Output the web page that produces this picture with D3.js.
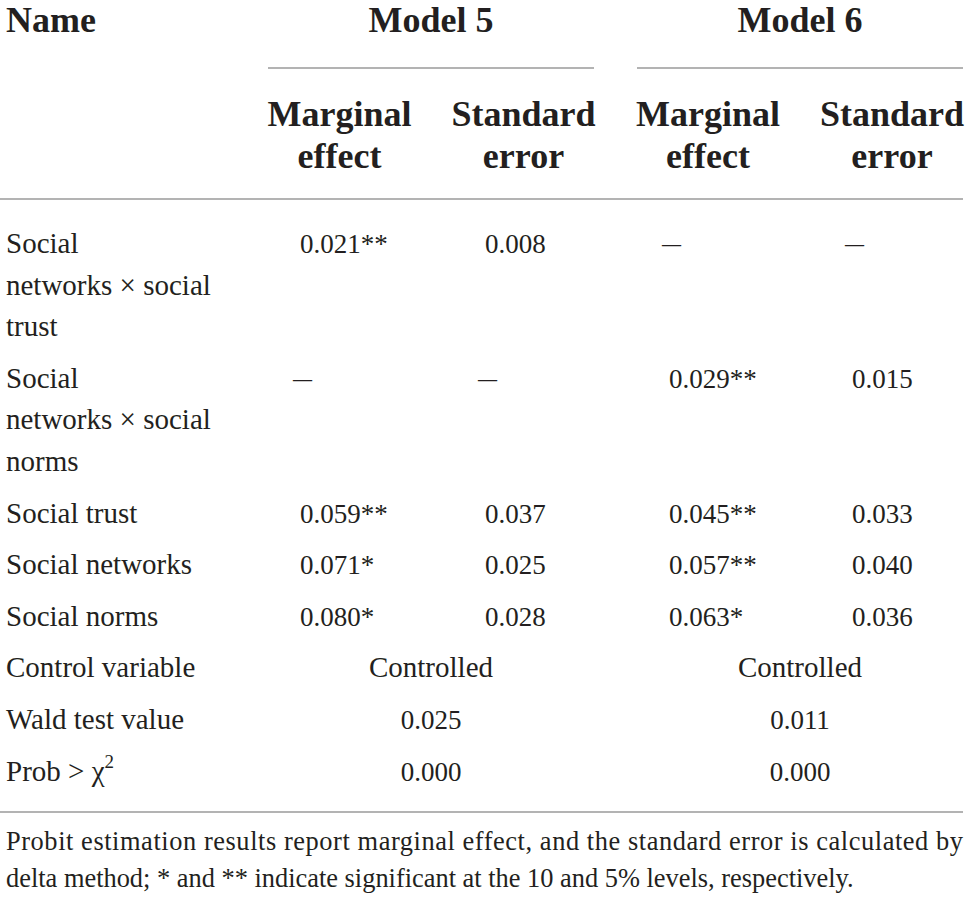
<!DOCTYPE html>
<html>
<head>
<meta charset="utf-8">
<script src="https://cdn.jsdelivr.net/npm/d3@7"></script>
<style>
  body { margin: 0; background: #fff; }
  text { font-family: "Liberation Serif", "DejaVu Serif", serif; fill: #231f20; }
</style>
</head>
<body>
<svg id="table"></svg>
<script>
// table content
const models = ["Model 5", "Model 6"];
const subHeads = [["Marginal", "effect"], ["Standard", "error"]];
const names = [
  ["Social", "networks \u00d7 social", "trust"],
  ["Social", "networks \u00d7 social", "norms"],
  ["Social trust"],
  ["Social networks"],
  ["Social norms"]
];
const m5Effect = ["0.021**", "\u2014", "0.059**", "0.071*", "0.080*"];
const m5SE     = ["0.008", "\u2014", "0.037", "0.025", "0.028"];
const m6Effect = ["\u2014", "0.029**", "0.045**", "0.057**", "0.063*"];
const m6SE     = ["\u2014", "0.015", "0.033", "0.040", "0.036"];
const spanNames = ["Control variable", "Wald test value", "Prob > \u03c7"];
const controlled = ["Controlled", "Controlled"];
const wald = ["0.025", "0.011"];
const prob = ["0.000", "0.000"];
const note = [
  "Probit estimation results report marginal effect, and the standard error is calculated by",
  "delta method; * and ** indicate significant at the 10 and 5% levels, respectively."
];

const width = 969, height = 904;
const svg = d3.select("#table").attr("width", width).attr("height", height);

// column positions
const colLeft = d3.scaleOrdinal()
  .domain(["m5e", "m5s", "m6e", "m6s"])
  .range([300, 485, 669, 852]);
const colCenter = d3.scaleOrdinal()
  .domain(["m5e", "m5s", "m6e", "m6s"])
  .range([339.5, 523.5, 708, 892]);
const modelSpan = d3.scaleOrdinal()
  .domain(models)
  .range([[268, 594], [637, 963]]);

// rows: every row is a few lines, rows are separated by a small gap
const lineH = 41.6, rowGap = 10, bodyTop = 253;
const allRows = names.length + spanNames.length;
const lineCounts = d3.range(allRows).map(i => i < names.length ? names[i].length : 1);
const rowStart = d3.cumsum([0].concat(lineCounts.slice(0, -1)));
const rowY = d3.scaleLinear().domain([0, 1]).range([bodyTop, bodyTop + lineH]);
function baseline(row, line) {
  return rowY(rowStart[row] + line) + row * rowGap;
}

// header
const head = svg.append("g").attr("font-weight", "bold").attr("font-size", "36px");
head.append("text").attr("x", 6).attr("y", 32).text("Name");
head.selectAll(".model")
  .data(models)
  .join("text")
    .attr("class", "model")
    .attr("x", d => d3.mean(modelSpan(d)))
    .attr("y", 32)
    .attr("text-anchor", "middle")
    .text(d => d);

svg.selectAll(".mline")
  .data(models)
  .join("line")
    .attr("class", "mline")
    .attr("x1", d => modelSpan(d)[0])
    .attr("x2", d => modelSpan(d)[1])
    .attr("y1", 68).attr("y2", 68)
    .attr("stroke", "#9a9a9a").attr("stroke-width", 1.5);

const subKeys = ["m5e", "m5s", "m6e", "m6s"];
const sub = head.selectAll(".sub")
  .data(subKeys)
  .join("text")
    .attr("class", "sub")
    .attr("text-anchor", "middle");
sub.selectAll("tspan")
  .data((d, i) => subHeads[i % 2].map(t => ({key: d, t: t})))
  .join("tspan")
    .attr("x", d => colCenter(d.key))
    .attr("y", (d, i) => 126 + i * 41.5)
    .text(d => d.t);

svg.append("line")
  .attr("x1", 0).attr("x2", 963)
  .attr("y1", 199).attr("y2", 199)
  .attr("stroke", "#9a9a9a").attr("stroke-width", 1.5);

// body
const body = svg.append("g").attr("font-size", "29px");

names.forEach((lines, r) => {
  body.append("g").selectAll("text")
    .data(lines)
    .join("text")
      .attr("x", 6)
      .attr("y", (d, i) => baseline(r, i))
      .text(d => d);
});

const dash = "\u2014";
const cols = [["m5e", m5Effect], ["m5s", m5SE], ["m6e", m6Effect], ["m6s", m6SE]];
cols.forEach(([key, vals]) => {
  body.append("g").attr("font-size", "27px").selectAll("text")
    .data(vals)
    .join("text")
      .attr("x", d => d === dash ? colLeft(key) - 7 : colLeft(key))
      .attr("y", (d, i) => baseline(i, 0) - (vals[i] === dash ? 1 : 0))
      .attr("textLength", d => d === dash ? 19 : null)
      .attr("lengthAdjust", "spacingAndGlyphs")
      .text(d => d);
});

spanNames.forEach((n, k) => {
  const r = names.length + k;
  const t = body.append("text").attr("x", 6).attr("y", baseline(r, 0)).text(n);
  if (k === 2) {
    t.append("tspan").attr("dy", -13).attr("font-size", "19px").text("2");
  }
});

[controlled, wald, prob].forEach((vals, k) => {
  const r = names.length + k;
  body.append("g").attr("font-size", k === 0 ? "29px" : "27px").selectAll("text")
    .data(vals)
    .join("text")
      .attr("x", (d, i) => d3.mean(modelSpan(models[i])))
      .attr("y", baseline(r, 0))
      .attr("text-anchor", "middle")
      .text(d => d);
});

svg.append("line")
  .attr("x1", 0).attr("x2", 963)
  .attr("y1", 812).attr("y2", 812)
  .attr("stroke", "#9a9a9a").attr("stroke-width", 1.5);

// footnote
svg.append("g").attr("font-size", "26.4px").selectAll("text")
  .data(note)
  .join("text")
    .attr("x", 6)
    .attr("y", (d, i) => 850 + i * 37)
    .attr("textLength", (d, i) => i === 0 ? 957 : null)
    .attr("lengthAdjust", "spacing")
    .text(d => d);
</script>
</body>
</html>
